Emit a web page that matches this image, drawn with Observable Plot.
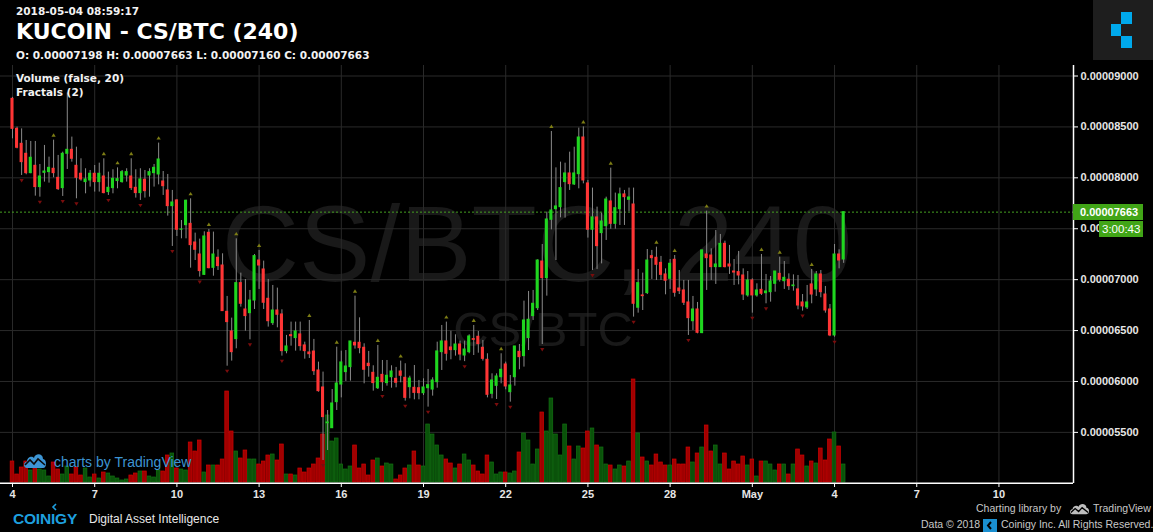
<!DOCTYPE html>
<html><head><meta charset="utf-8">
<script src="https://cdn.jsdelivr.net/npm/d3@7"></script>
<script src="https://cdn.jsdelivr.net/npm/@observablehq/plot@0.6"></script>
<style>
html,body{margin:0;padding:0;background:#000;overflow:hidden}
#wrap{position:relative;width:1153px;height:532px;background:#000;color:#fff;font-family:"DejaVu Sans",sans-serif}
.layer{position:absolute;left:0;top:0}
.abs{position:absolute;white-space:nowrap;line-height:1}
.hb{font-family:"DejaVu Sans",sans-serif;font-weight:bold;font-size:10.5px;color:#f2f2f2}
.ft{font-family:"Liberation Sans",Arial,sans-serif;font-size:10.5px;color:#c8c8c8}
</style></head><body><div id="wrap"></div>
<script>
// ---- data (prices in satoshi = 1e-8 BTC), 4h candles from 2018-04-04 00:00 UTC ----
const opens = [
8776,8481,8334,8236,8046,8118,7909,8049,8056,8089,
8000,7899,8236,8275,8118,8040,7958,7974,8040,7958,
8013,7860,7899,7968,7958,8023,8013,7902,7850,7981,
8023,8046,8033,7964,7876,7722,7778,7490,7535,7548,
7365,7247,7047,7460,7116,7215,7139,6684,6491,6416,
6966,6707,6671,6795,7188,7100,6812,6573,6697,6658,
6298,6455,6426,6462,6354,6285,6294,6108,5941,5590,
5541,5797,5970,6092,6141,6380,6380,6331,6174,6085,
5934,6065,5984,6042,6026,6098,6036,5944,5938,5934,
5885,5934,5921,5993,6288,6393,6334,6308,6363,6255,
6288,6416,6439,6331,6213,5879,5957,6042,6167,5895,
6042,6291,6249,6426,6642,6720,7178,7015,7588,7692,
7712,7958,8043,7935,8036,8396,7945,7490,7611,7457,
7525,7768,7548,7692,7837,7784,7738,6724,6845,6868,
7231,7215,7165,7051,7008,7195,6913,6894,6776,6592,
6707,6475,7247,7237,7123,7123,7352,7149,7080,7074,
7041,6845,6992,6845,6900,6867,6877,6959,7057,6985,
6999,6936,6904,6776,6727,6953,6904,7051,6854,6707,
6452,7247,7198];
const highs = [
8790,8498,8481,8367,8357,8357,8131,8318,8203,8370,
8220,8252,8832,8400,8301,8187,8089,8072,8121,8144,
8187,8056,8079,8098,8072,8089,8187,8079,8089,8072,
8089,8131,8341,8062,8033,7876,7784,7581,7780,7794,
7457,7398,7470,7493,7467,7293,7254,6835,6622,7401,
7064,7002,6894,7247,7287,7182,7002,6943,6917,6704,
6452,6583,6583,6583,6386,6599,6413,6190,6092,5715,
5921,6337,6298,6304,6393,6838,6625,6370,6295,6154,
6354,6206,6206,6154,6138,6200,6174,6052,6157,6010,
6026,6118,6036,6386,6550,6583,6494,6458,6396,6396,
6458,6550,6491,6403,6272,6075,6075,6272,6190,6059,
6344,6363,6789,6884,6894,7195,7345,7663,8455,8098,
8154,8144,8252,8301,8488,8500,7974,7899,7712,7653,
7810,8095,7850,7899,7876,7899,7899,7100,7064,7296,
7287,7319,7228,7106,7198,7237,7090,6992,6992,6835,
6776,7290,7673,7303,7483,7444,7378,7336,7198,7277,
7106,7080,7008,6959,7247,7051,7031,7080,7221,7178,
7057,7047,7041,6854,6943,7100,7080,7090,6933,6756,
7345,7293,7663];
const lows = [
8383,8285,8023,8030,8040,7820,7810,7958,7948,8000,
7876,7817,8082,8154,7794,7967,7843,7909,7860,7860,
7843,7827,7843,7892,7948,7958,7876,7801,7778,7801,
7810,7909,7931,7827,7624,7326,7424,7401,7401,7113,
7188,7025,7041,7106,7034,7090,6687,6150,6200,6321,
6730,6494,6409,6707,6904,6707,6534,6550,6527,6249,
6272,6347,6298,6298,6219,6226,6059,5895,5224,5322,
5541,5715,5839,6000,6003,6318,6272,5977,6042,5905,
5921,5902,5954,5934,5938,5987,5807,5830,5820,5820,
5862,5748,5856,5934,6108,6200,6213,6249,6203,6195,
6272,6255,6278,6200,5839,5830,5823,5977,5918,5797,
5954,6115,6141,6304,6599,6697,6363,6838,7489,7188,
7607,7604,7876,7925,7892,7941,7408,7090,7100,7155,
7385,7495,7496,7532,7532,7666,6632,6671,6697,6854,
7002,6992,6992,6851,6904,6828,6854,6746,6452,6501,
6468,6470,6894,6992,6953,7123,7116,7051,6943,6949,
6795,6828,6671,6828,6845,6763,6779,6877,6976,6904,
6894,6887,6704,6691,6707,6763,6835,6822,6671,6440,
6435,7106,7160];
const closes = [
8481,8295,8154,8046,8197,7909,8013,8062,8098,8046,
7889,8236,8275,8187,8000,7984,7984,8040,7958,8040,
7850,7902,7990,7987,8056,8056,7899,7850,7984,7869,
8056,8098,8180,7918,7722,7758,7490,7493,7775,7339,
7293,7084,7424,7113,7247,7133,6691,6583,6288,6966,
6763,6642,6795,7231,7139,6773,6592,6697,6655,6298,
6344,6445,6491,6347,6298,6268,6101,5905,5650,5597,
5784,5980,6187,6147,6393,6354,6327,6115,6151,5984,
6036,5993,6056,6098,5987,6056,5839,6029,5888,5885,
5941,5964,6010,6295,6393,6272,6308,6363,6265,6314,
6442,6409,6367,6222,5869,6010,6049,6115,5951,5961,
6344,6239,6599,6606,6763,7188,7015,7591,7679,7719,
7899,8043,7938,8043,8396,7974,7490,7611,7329,7571,
7787,7548,7702,7837,7810,7807,6763,6966,6838,7188,
7211,7146,7047,6989,7156,6871,6887,6773,6622,6707,
6478,7287,7211,7123,7149,7352,7123,7129,7070,7041,
6854,6992,6845,6894,6861,6884,6982,7080,6999,7018,
6936,6943,6746,6737,6776,6854,7051,6877,6697,6452,
7247,7188,7663];
const volumes = [
21,8,15,21,12,22,13,12,6,20,
13,8,16,8,15,7,14,5,8,4,
10,9,6,4,2,3,7,9,11,11,
6,5,12,11,27,29,14,13,12,40,
31,42,10,17,17,17,23,91,51,31,
24,32,23,23,18,21,27,28,22,38,
8,8,7,14,10,14,18,24,48,67,
41,44,18,13,16,37,14,18,7,22,
24,16,19,18,3,7,14,17,31,17,
16,58,48,37,27,23,19,14,18,28,
22,17,11,8,27,20,8,10,10,9,
11,30,49,42,18,33,70,51,84,48,
27,58,36,23,36,34,51,54,37,35,
18,17,13,17,16,21,103,49,25,21,
17,28,20,17,17,23,18,18,35,20,
29,35,57,31,37,18,29,13,21,18,
26,17,23,6,21,21,18,12,18,18,
8,18,33,27,16,21,19,34,22,43,
50,36,18];
const upFractals = [9,20,23,26,32,39,43,49,54,65,71,75,80,85,95,101,107,118,125,131,141,145,152,164,168,175];
const downFractals = [2,6,11,14,21,28,35,41,47,52,59,68,81,86,91,99,106,109,116,127,136,148,162,165,173,180];
const tickDates = ["2018-04-04","2018-04-07","2018-04-10","2018-04-13","2018-04-16","2018-04-19","2018-04-22","2018-04-25","2018-04-28","2018-05-01","2018-05-04","2018-05-07","2018-05-10"];
const tickLabels = ["4","7","10","13","16","19","22","25","28","May","4","7","10"];
const priceTicks = [5500,6000,6500,7000,7500,8000,8500,9000];
const lastPrice = 7663;
const countdown = "3:00:43";

// ---- build ----
const HOUR = 3600e3;
const start = Date.UTC(2018, 3, 4);
const candles = opens.map((o, i) => ({
  t: new Date(start + i * 4 * HOUR),
  o: o / 1e8, h: highs[i] / 1e8, l: lows[i] / 1e8, c: closes[i] / 1e8,
  v: volumes[i], up: closes[i] >= o
}));
const shift = (d, h) => new Date(+d + h * HOUR);
const ticks = tickDates.map(s => new Date(s + "T00:00:00Z"));
const labelOf = new Map(ticks.map((d, i) => [+d, tickLabels[i]]));
const yTicks = priceTicks.map(p => p / 1e8);
const xDomain = [shift(start, -10.5), shift(start, 929.3)];
const W = 1153, Hh = 532;
const base = {
  width: W, height: Hh, marginLeft: 0, marginRight: 80, marginTop: 65, marginBottom: 49,
  style: {background: "transparent", color: "#e6e6e6", overflow: "visible"}
};
const priceY = {domain: [0.00005, 0.00009], range: [482.8, 75.5]};

const wrap = document.getElementById("wrap");

// back layer: grid + watermark
const back = Plot.plot({
  ...base,
  x: {type: "utc", domain: xDomain, axis: null},
  y: {...priceY, axis: null},
  marks: [
    Plot.text(["CS/BTC, 240"], {frameAnchor: "middle", lineAnchor: "bottom", dy: 6, fontSize: 107, fontFamily: "Liberation Sans", fill: "#191919"}),
    Plot.text(["CS/BTC"], {frameAnchor: "middle", lineAnchor: "bottom", dx: 6, dy: 71, fontSize: 49, fontFamily: "Liberation Sans", fill: "#191919"}),
    Plot.gridX(ticks, {stroke: "#2a2a2a", strokeOpacity: 1}),
    Plot.gridY(yTicks, {stroke: "#2a2a2a", strokeOpacity: 1})
  ]
});
back.classList.add("layer");
wrap.appendChild(back);

// middle layer: volume
const vol = Plot.plot({
  ...base,
  x: {type: "utc", domain: xDomain, axis: null},
  y: {domain: [0, 103], range: [482, 379], axis: null},
  marks: [
    Plot.rect(candles, {
      x1: d => shift(d.t, -2), x2: d => shift(d.t, 2), y1: 0, y2: "v",
      fill: d => d.up ? "#0a520a" : "#a00000",
      stroke: d => d.up ? "#127212" : "#d00000", strokeWidth: 0.7,
      insetLeft: 0.45, insetRight: 0.45
    })
  ]
});
vol.classList.add("layer");
wrap.appendChild(vol);

// front layer: candles, fractals, axes
const triUp = {draw(ctx, size) { const r = Math.sqrt(size) / 2; ctx.moveTo(-r, r * 0.7); ctx.lineTo(r, r * 0.7); ctx.lineTo(0, -r * 0.9); ctx.closePath(); }};
const triDown = {draw(ctx, size) { const r = Math.sqrt(size) / 2; ctx.moveTo(-r, -r * 0.7); ctx.lineTo(r, -r * 0.7); ctx.lineTo(0, r * 0.9); ctx.closePath(); }};
const front = Plot.plot({
  ...base,
  x: {type: "utc", domain: xDomain},
  y: priceY,
  marks: [
    Plot.ruleY([lastPrice / 1e8], {stroke: "#45a020", strokeDasharray: "2,2"}),
    Plot.ruleX(candles, {x: "t", y1: "l", y2: "h", stroke: "#8a8a8a", strokeWidth: 1}),
    Plot.rect(candles, {
      x1: d => shift(d.t, -1.35), x2: d => shift(d.t, 1.35), y1: "o", y2: "c",
      fill: d => d.up ? "#1fd61f" : "#ff3535", insetTop: -0.5, insetBottom: -0.5
    }),
    Plot.dot(upFractals.map(i => candles[i]), {x: "t", y: "h", dy: -5, symbol: triUp, r: 2.4, fill: "#7d7d14", stroke: null}),
    Plot.dot(downFractals.map(i => candles[i]), {x: "t", y: "l", dy: 5, symbol: triDown, r: 2.4, fill: "#7a0d0d", stroke: null}),
    Plot.ruleY([priceY.domain[0]], {stroke: "#ffffff", strokeWidth: 1.5}),
    Plot.ruleX([xDomain[1]], {stroke: "#ffffff", strokeWidth: 1.5}),
    Plot.axisX(ticks, {anchor: "bottom", tickSize: 4, tickPadding: 3, tickFormat: d => labelOf.get(+d), fontSize: 11, fontWeight: "bold", fontFamily: "Liberation Sans", stroke: "#ffffff", fill: "#e6e6e6", label: null}),
    Plot.axisY(yTicks, {anchor: "right", tickSize: 4, tickPadding: 3, tickFormat: d => d.toFixed(8), fontSize: 11, fontWeight: "bold", fontFamily: "Liberation Sans", stroke: "#ffffff", fill: "#e6e6e6", textAnchor: "start", label: null})
  ]
});
front.classList.add("layer");
wrap.appendChild(front);

// ---- overlays ----
const yLast = front.scale("y").apply(lastPrice / 1e8);
const last = candles[candles.length - 1];
const fmt = v => v.toFixed(8);
const html = `
<div class="abs hb" style="left:16px;top:6px;font-size:10.5px">2018-05-04 08:59:17</div>
<div class="abs" style="left:16px;top:20.5px;font-family:'DejaVu Sans';font-weight:bold;font-size:22px;color:#fff">KUCOIN - CS/BTC (240)</div>
<div class="abs hb" style="left:16px;top:50px">O: ${fmt(last.o)} H: ${fmt(last.h)} L: ${fmt(last.l)} C: ${fmt(last.c)}</div>
<div class="abs hb" style="left:16px;top:73px">Volume (false, 20)</div>
<div class="abs hb" style="left:16px;top:87px">Fractals (2)</div>
<div class="abs" style="left:1093px;top:0;width:60px;height:60px;background:#1e1e1e">
  <div style="position:absolute;left:28px;top:12px;width:11px;height:12px;background:#00a9ec"></div>
  <div style="position:absolute;left:18px;top:24px;width:10px;height:12px;background:#00a9ec"></div>
  <div style="position:absolute;left:28px;top:36px;width:11px;height:12px;background:#00a9ec"></div>
</div>
<div class="abs" style="left:1073px;top:${yLast - 7.5}px;width:70px;height:16px;background:#41a517"></div>
<div class="abs" style="left:1080px;top:${yLast - 4.3}px;font-family:'Liberation Sans';font-weight:bold;font-size:11px;color:#fff">${(lastPrice / 1e8).toFixed(8)}</div>
<div class="abs" style="left:1099px;top:${yLast + 9.5}px;width:44px;height:16px;background:#41a517"></div>
<div class="abs" style="left:1102px;top:${yLast + 12.5}px;font-family:'Liberation Sans';font-size:11.5px;color:#fff">${countdown}</div>
<svg class="abs" style="left:23px;top:451px" width="24" height="18" viewBox="0 0 24 18">
  <path d="M4 17 C0 17 0 11 4 10.5 C4 6 9 4.5 11 7 C12 2 20 2 20 8 C24 8.5 24 17 20 17 Z" fill="#3d95d4"/>
  <polyline points="2,14 7,9 11,13 15,8 22,14" fill="none" stroke="#0b0b0b" stroke-width="1.6"/>
</svg>
<div class="abs" style="left:54px;top:454.8px;font-family:'Liberation Sans';font-size:14px;color:#3d95d4">charts by TradingView</div>
<svg class="abs" style="left:51px;top:503px" width="8" height="8"><polyline points="5,1 2,4 5,7" fill="none" stroke="#1e9fdf" stroke-width="1.6"/></svg>
<div class="abs" style="left:13px;top:510.5px;font-family:'Liberation Sans';font-weight:bold;font-size:15.5px;color:#1e9fdf;letter-spacing:-0.2px">COINIGY</div>
<div class="abs" style="left:89px;top:512.5px;font-family:'Liberation Sans';font-size:12px;color:#e8e8e8">Digital Asset Intelligence</div>
<div class="abs ft" style="left:976px;top:503.4px">Charting library by</div>
<svg class="abs" style="left:1069px;top:502px" width="21" height="13" viewBox="0 0 24 15">
  <path d="M4 14 C0 14 0 9 4 8.5 C4 4.5 9 3 11 5.5 C12 1 20 1 20 6.5 C24 7 24 14 20 14 Z" fill="#bdbdbd"/>
  <polyline points="2,12 7,7.5 11,11 15,6.5 22,12" fill="none" stroke="#000" stroke-width="1.5"/>
</svg>
<div class="abs ft" style="left:1093px;top:503.4px">TradingView</div>
<div class="abs ft" style="left:921px;top:519.4px">Data © 2018</div>
<div class="abs" style="left:983px;top:519px;width:14px;height:13px;background:#1a8fd0">
  <svg width="14" height="13" style="position:absolute;left:0;top:0"><polyline points="8,3 5,6.5 8,10" fill="none" stroke="#000" stroke-width="2"/></svg>
</div>
<div class="abs ft" style="left:1001px;top:519.4px">Coinigy Inc. All Rights Reserved.</div>
`;
const ov = document.createElement("div");
ov.innerHTML = html;
while (ov.firstChild) wrap.appendChild(ov.firstChild);
</script>
</body></html>
